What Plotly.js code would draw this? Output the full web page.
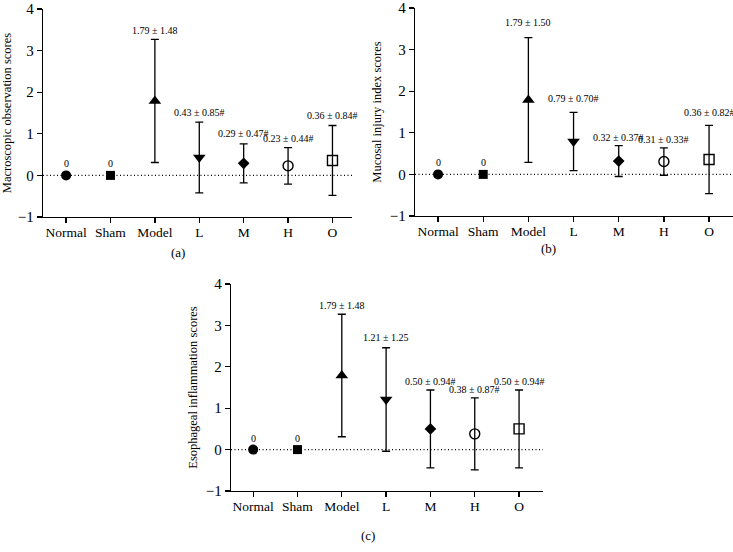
<!DOCTYPE html>
<html>
<head>
<meta charset="utf-8">
<script src="https://cdn.plot.ly/plotly-3.0.1.min.js"></script>
<style>html,body{margin:0;padding:0;background:#fff;}#chart{width:733px;height:552px;}</style>
</head>
<body>
<div id="chart"></div>
<script>
// ---- data ----
const groups = ["Normal", "Sham", "Model", "L", "M", "H", "O"];

const macroMean = [0, 0, 1.79, 0.43, 0.29, 0.23, 0.36];
const macroSD   = [0, 0, 1.48, 0.85, 0.47, 0.44, 0.84];
const macroLabels = ["0", "0", "1.79 ± 1.48", "0.43 ± 0.85#", "0.29 ± 0.47#", "0.23 ± 0.44#", "0.36 ± 0.84#"];

const mucosalMean = [0, 0, 1.79, 0.79, 0.32, 0.31, 0.36];
const mucosalSD   = [0, 0, 1.50, 0.70, 0.37, 0.33, 0.82];
const mucosalLabels = ["0", "0", "1.79 ± 1.50", "0.79 ± 0.70#", "0.32 ± 0.37#", "0.31 ± 0.33#", "0.36 ± 0.82#"];

const esoMean = [0, 0, 1.79, 1.21, 0.50, 0.38, 0.50];
const esoSD   = [0, 0, 1.48, 1.25, 0.94, 0.87, 0.94];
const esoLabels = ["0", "0", "1.79 ± 1.48", "1.21 ± 1.25", "0.50 ± 0.94#", "0.38 ± 0.87#", "0.50 ± 0.94#"];

const yTitles = ["Macroscopic observation scores", "Mucosal injury index scores", "Esophageal inflammation scores"];
const panelTags = ["(a)", "(b)", "(c)"];
const yTickVals = [-1, 0, 1, 2, 3, 4];
const yTickText = ["−1", "0", "1", "2", "3", "4"];

// ---- styles ----
const symbols = ["circle", "square", "triangle-up", "triangle-down", "diamond", "circle-open", "square-open"];
const sizes = [10, 9, 11, 11, 9, 10, 10];
const FONT = "Liberation Serif, Times New Roman, serif";

const panels = [
  {mean: macroMean, sd: macroSD, labels: macroLabels, xa: "x", ya: "y",
   xdom: [43/733, 352/733], ydom: [1-217/552, 1-9/552], xr: [-0.52, 6.44],
   shifts: [4, 4, 1, 2, 3, 2, 2], tag: [178/733, 1-252/552]},
  {mean: mucosalMean, sd: mucosalSD, labels: mucosalLabels, xa: "x2", ya: "y2",
   xdom: [415/733, 1.0], ydom: [1-216/552, 1-8/552], xr: [-0.51, 6.53],
   shifts: [4, 4, 8, 6, 1, 1, 5], tag: [548/733, 1-248/552]},
  {mean: esoMean, sd: esoSD, labels: esoLabels, xa: "x3", ya: "y3",
   xdom: [231/733, 543/733], ydom: [1-491/552, 1-284/552], xr: [-0.5, 6.54],
   shifts: [4, 4, 1, 3, 1, 1, 1], tag: [368/733, 1-535/552]}
];

const traces = [];
const annotations = [];
const shapes = [];
const layout = {
  width: 733, height: 552,
  margin: {l: 0, r: 0, t: 0, b: 0},
  paper_bgcolor: "#fff", plot_bgcolor: "rgba(0,0,0,0)",
  showlegend: false,
  font: {family: FONT, color: "#000", size: 12},
  annotations: annotations, shapes: shapes
};

panels.forEach((p, pi) => {
  const sfx = pi === 0 ? "" : String(pi + 1);
  for (let i = 0; i < groups.length; i++) {
    traces.push({
      type: "scatter", mode: "markers",
      x: [groups[i]], y: [p.mean[i]],
      xaxis: p.xa, yaxis: p.ya,
      marker: {symbol: symbols[i], size: sizes[i], color: "#000",
               line: {color: "#000", width: symbols[i].indexOf("open") >= 0 ? 1.4 : 0}},
      error_y: {type: "data", array: [p.sd[i]], visible: p.sd[i] > 0,
                color: "#000", thickness: 1.3, width: 4},
      hoverinfo: "skip", cliponaxis: false
    });
    annotations.push({
      xref: p.xa, yref: p.ya, x: groups[i], y: p.mean[i] + p.sd[i],
      text: p.labels[i], showarrow: false, yanchor: "bottom", xanchor: "center",
      yshift: p.shifts[i], font: {family: FONT, size: 10, color: "#000"}
    });
  }
  shapes.push({type: "line", xref: p.xa + " domain", yref: p.ya,
    x0: 0, x1: 1, y0: 0, y1: 0, line: {color: "#000", width: 1.1, dash: "1px,2.5px"}, layer: "below"});
  annotations.push({xref: "paper", yref: "paper", x: p.tag[0], y: p.tag[1],
    text: panelTags[pi], showarrow: false, xanchor: "center", yanchor: "middle",
    font: {family: FONT, size: 13, color: "#000"}});

  layout["xaxis" + sfx] = {
    domain: p.xdom, anchor: p.ya, type: "category", categoryorder: "array", categoryarray: groups,
    range: p.xr, showgrid: false, zeroline: false, showline: true, linecolor: "#000", linewidth: 1.3,
    ticks: "outside", ticklen: 5, tickwidth: 1.3, tickcolor: "#000", ticklabelstandoff: -3,
    tickfont: {family: FONT, size: 13.5, color: "#000"}, fixedrange: true
  };
  layout["yaxis" + sfx] = {
    domain: p.ydom, anchor: p.xa, range: [-1, 4.0001], tickvals: yTickVals,
    ticktext: yTickText,
    showgrid: false, zeroline: false, showline: true, linecolor: "#000", linewidth: 1.3,
    ticks: "outside", ticklen: 5, tickwidth: 1.3, tickcolor: "#000",
    tickfont: {family: FONT, size: 15, color: "#000"},
    title: {text: yTitles[pi], font: {family: FONT, size: 12.5, color: "#000"}, standoff: 5},
    fixedrange: true
  };
});

Plotly.newPlot("chart", traces, layout, {displayModeBar: false, staticPlot: true});
</script>
</body>
</html>
